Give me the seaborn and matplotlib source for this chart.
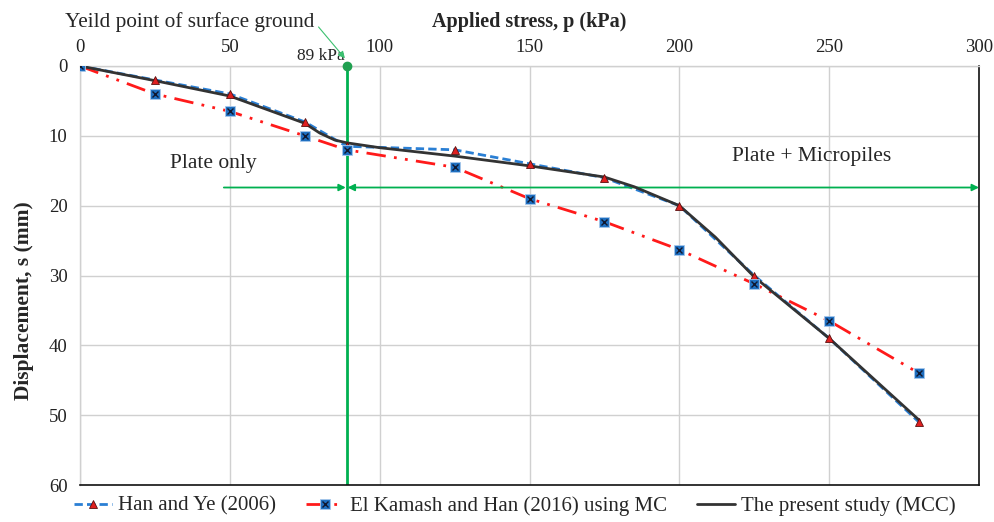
import matplotlib
matplotlib.use("Agg")
import matplotlib.pyplot as plt
import seaborn as sns
import pandas as pd
from matplotlib.legend_handler import HandlerTuple
from matplotlib.lines import Line2D

# ---- data ----
han_p = [0, 25, 50, 75, 89, 125, 150, 175, 200, 225, 250, 280]
han_s = [0, 2, 4, 8, 11.5, 12, 14, 16, 20, 30, 39, 51]

elk_p = [0, 25, 50, 75, 89, 125, 150, 175, 200, 225, 250, 280]
elk_s = [0, 4, 6.5, 10, 12, 14.5, 19, 22.3, 26.3, 31.2, 36.5, 44]

mcc_p = [0, 25, 50, 75, 80, 85, 89, 100, 125, 150, 175, 185, 200, 212, 225, 250, 280]
mcc_s = [0, 2.1, 4.3, 8.2, 9.6, 10.6, 11.0, 11.7, 12.9, 14.3, 15.9, 17.3, 20, 24.5, 30.2, 39, 50.7]

yield_p = 89
xticks = [0, 50, 100, 150, 200, 250, 300]
yticks = [0, 10, 20, 30, 40, 50, 60]

labels = ["Han and Ye (2006)", "El Kamash and Han (2016) using MC", "The present study (MCC)"]

sns.set_theme(style="white")
plt.rcParams["font.family"] = ["Liberation Serif", "DejaVu Serif"]

fig = plt.figure(figsize=(9.95, 5.22), dpi=100)
ax = fig.add_axes([80/995, 1-485/522, (979-80)/995, (485-66)/522])

green = "#00b050"
blue = "#2a7fd4"
red = "#ff1a1a"
dark = "#333333"
dash_h = (0, (3, 1.5))
dash_e = (0, (7, 3, 1, 3, 1, 3))

df_h = pd.DataFrame({"p": han_p, "s": han_s})
df_e = pd.DataFrame({"p": elk_p, "s": elk_s})
df_m = pd.DataFrame({"p": mcc_p, "s": mcc_s})

ax.axvline(yield_p, color=green, lw=2, zorder=2)

sns.lineplot(data=df_h, x="p", y="s", sort=False, ax=ax, color=blue, lw=2,
             linestyle=dash_h, zorder=3)
sns.lineplot(data=df_e, x="p", y="s", sort=False, ax=ax, color=red, lw=2,
             linestyle=dash_e, zorder=3)
sns.lineplot(data=df_m, x="p", y="s", sort=False, ax=ax, color=dark, lw=2, zorder=4)
sq = ax.plot(elk_p, elk_s, ls="none", marker="s", markersize=7, markerfacecolor="#1f6fc0",
             markeredgecolor="#a8c8ec", markeredgewidth=0.6, zorder=5)[0]
xx = ax.plot(elk_p, elk_s, ls="none", marker="x", markersize=5, color="#101830",
             markeredgewidth=1.0, zorder=6)[0]
ax.plot(han_p, han_s, ls="none", marker="^", markersize=6, markerfacecolor="#e02020",
        markeredgecolor="#5a1010", markeredgewidth=0.6, zorder=4.5)

ax.set_xlim(0, 300)
ax.set_ylim(60, 0)
ax.set_xticks(xticks)
ax.set_yticks(yticks)
ax.xaxis.tick_top()
ax.xaxis.set_label_position("top")
ax.tick_params(axis="both", length=0, labelsize=13.5, colors="#222222")
ax.tick_params(axis="x", pad=7)
ax.tick_params(axis="y", pad=9)
ax.set_xlabel("Applied stress, p (kPa)", fontsize=14.5, fontweight="bold", labelpad=9)
ax.set_ylabel("Displacement, s (mm)", fontsize=15.5, fontweight="bold")
ax.yaxis.set_label_coords(-0.051, 0.44)
ax.grid(True, color="#d0d0d0", lw=1)
for side in ["top", "left"]:
    ax.spines[side].set_color("#d0d0d0")
    ax.spines[side].set_linewidth(1)
for side in ["right", "bottom"]:
    ax.spines[side].set_color("#111111")
    ax.spines[side].set_linewidth(1.2)

# yield point marker and annotations
ax.plot([yield_p], [0], marker="o", markersize=6, color="#20a050", clip_on=False, zorder=7)
ax.text(yield_p - 0.5, -1.5, "89 kPa", ha="right", va="center", fontsize=12.5, clip_on=False)
ax.annotate("Yeild point of surface ground", xy=(yield_p - 0.6, -1.1), xycoords="data",
            xytext=(65, 522 - 22), textcoords="figure pixels", ha="left", va="center",
            fontsize=15.3, annotation_clip=False,
            arrowprops=dict(arrowstyle="-|>", color="#3cc070", lw=0.8,
                            shrinkA=1, shrinkB=0, mutation_scale=10,
                            relpos=(1.0, 0.5)))

# region arrows
ya = 17.4
ax.annotate("", xy=(yield_p - 0.3, ya), xytext=(48, ya),
            arrowprops=dict(arrowstyle="-|>", color=green, lw=1.3, shrinkA=0, shrinkB=0,
                            mutation_scale=10))
ax.annotate("", xy=(300, ya), xytext=(yield_p + 0.3, ya),
            arrowprops=dict(arrowstyle="<|-|>", color=green, lw=1.3, shrinkA=0, shrinkB=0,
                            mutation_scale=10), annotation_clip=False)
ax.text(44.5, 13.9, "Plate only", ha="center", va="center", fontsize=15.5)
ax.text(244, 12.9, "Plate + Micropiles", ha="center", va="center", fontsize=15.5)

# legend
lh = Line2D([], [], color=blue, lw=2, linestyle=dash_h, marker="^", markersize=6,
            markerfacecolor="#e02020", markeredgecolor="#5a1010", markeredgewidth=0.6)
le = Line2D([], [], color=red, lw=2, linestyle=dash_e)
lm = Line2D([], [], color=dark, lw=2)
leg = fig.legend([lh, (le, sq, xx), lm], labels, loc="center", bbox_to_anchor=(0.5176, 1 - 506/522),
                 ncol=3, frameon=False, fontsize=15, handlelength=1.8, columnspacing=1.45,
                 handletextpad=0.3, handler_map={tuple: HandlerTuple(ndivide=1, pad=0)})

fig.savefig("out.png", dpi=100)
